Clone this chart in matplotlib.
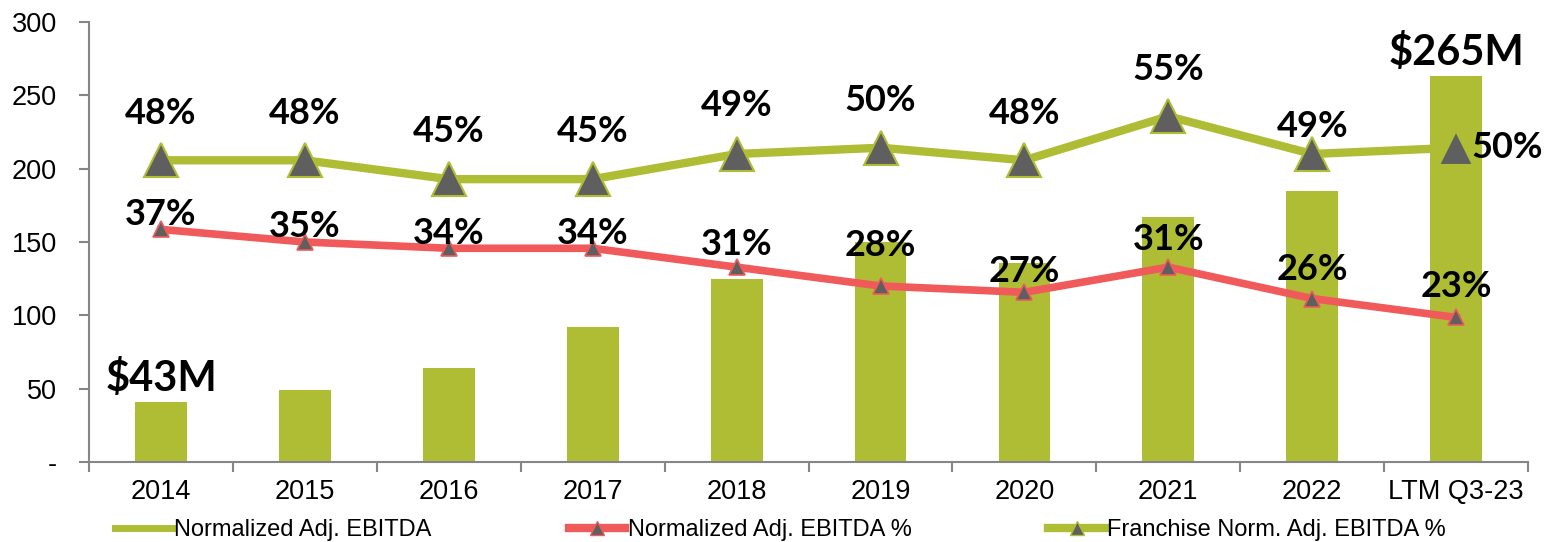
import numpy as np
import matplotlib
matplotlib.use("Agg")
import matplotlib.pyplot as plt
from matplotlib.lines import Line2D

categories = ['2014', '2015', '2016', '2017', '2018', '2019', '2020', '2021', '2022', 'LTM Q3-23']
ebitda = [41, 49, 64, 92, 125, 150, 136, 167, 185, 263]
norm_pct = [37, 35, 34, 34, 31, 28, 27, 31, 26, 23]
franchise_pct = [48, 48, 45, 45, 49, 50, 48, 55, 49, 50]
bar_labels = {0: '$43M', 9: '$265M'}

green = '#AFBD34'
red = '#F05A5A'
gray = '#5F5F5F'

plt.rcParams['font.family'] = ['Liberation Sans', 'DejaVu Sans']

fig = plt.figure(figsize=(15.49, 5.42), dpi=100)
ax = fig.add_axes([0.0575, 0.1476, 0.929, 0.8118])
x = np.arange(len(categories))

ax.bar(x, ebitda, width=0.36, color=green, zorder=1)
ax.set_xlim(-0.5, len(categories) - 0.5)
ax.set_ylim(0, 300)
ax.set_yticks(np.arange(0, 301, 50))
ax.set_yticklabels(['-'] + [str(v) for v in range(50, 301, 50)], fontsize=19.5)
ax.set_xticks(x)
ax.set_xticklabels(categories, fontsize=19.5)
ax.set_xticks(np.arange(-0.5, len(categories), 1), minor=True)
ax.tick_params(axis='x', which='major', length=0, pad=12)
ax.tick_params(axis='x', which='minor', length=7, color='#868686', width=1.5)
ax.tick_params(axis='y', length=7, color='#868686', width=1.5, pad=16)
for s in ['top', 'right']:
    ax.spines[s].set_visible(False)
for s in ['left', 'bottom']:
    ax.spines[s].set_color('#868686')
    ax.spines[s].set_linewidth(1.5)

# percentages on hidden secondary scale (0-70%)
ax2 = ax.twinx()
ax2.set_ylim(0, 70)
ax2.axis('off')
ax2.plot(x, franchise_pct, color=green, lw=6, marker='^', markersize=25,
         markerfacecolor=gray, markeredgecolor=green, markeredgewidth=1.5, zorder=3)
ax2.plot(x, norm_pct, color=red, lw=5.5, marker='^', markersize=12,
         markerfacecolor=gray, markeredgecolor=red, markeredgewidth=1.2, zorder=3)

lbl = dict(fontsize=26, fontweight='bold', family=['Lato', 'DejaVu Sans'], color='black')
fr_off = [34, 34, 34, 34, 35, 34, 34, 34, 20, 0]
for i, p in enumerate(franchise_pct):
    if i == len(categories) - 1:
        ax2.annotate(f'{p}%', (x[i], p), xytext=(11, 0), textcoords='offset points',
                     ha='left', va='center', **lbl)
    else:
        ax2.annotate(f'{p}%', (x[i], p), xytext=(0, fr_off[i]), textcoords='offset points',
                     ha='center', va='center', **lbl)
nr_off = [11, 11, 11, 11, 16, 29, 15, 20, 21, 22]
for i, p in enumerate(norm_pct):
    ax2.annotate(f'{p}%', (x[i], p), xytext=(0, nr_off[i]), textcoords='offset points',
                 ha='center', va='center', **lbl)
for i, t in bar_labels.items():
    ax.annotate(t, (x[i], ebitda[i]), xytext=(0, 3), textcoords='offset points',
                ha='center', va='bottom', fontsize=30, fontweight='bold',
                family=['Lato', 'DejaVu Sans'])

handles = [
    Line2D([0], [0], color=green, lw=5),
    Line2D([0], [0], color=red, lw=6, marker='^', markersize=10,
           markerfacecolor=gray, markeredgecolor=red),
    Line2D([0], [0], color=green, lw=6, marker='^', markersize=10,
           markerfacecolor=gray, markeredgecolor=green),
]
names = ['Normalized Adj. EBITDA', 'Normalized Adj. EBITDA %', 'Franchise Norm. Adj. EBITDA %']
fig.legend(handles, names, loc='center', bbox_to_anchor=(0.504, 0.022), ncol=3,
           frameon=False, fontsize=17, columnspacing=5.8, handlelength=2.4, handletextpad=0.1)

fig.savefig('out.png', dpi=100)
